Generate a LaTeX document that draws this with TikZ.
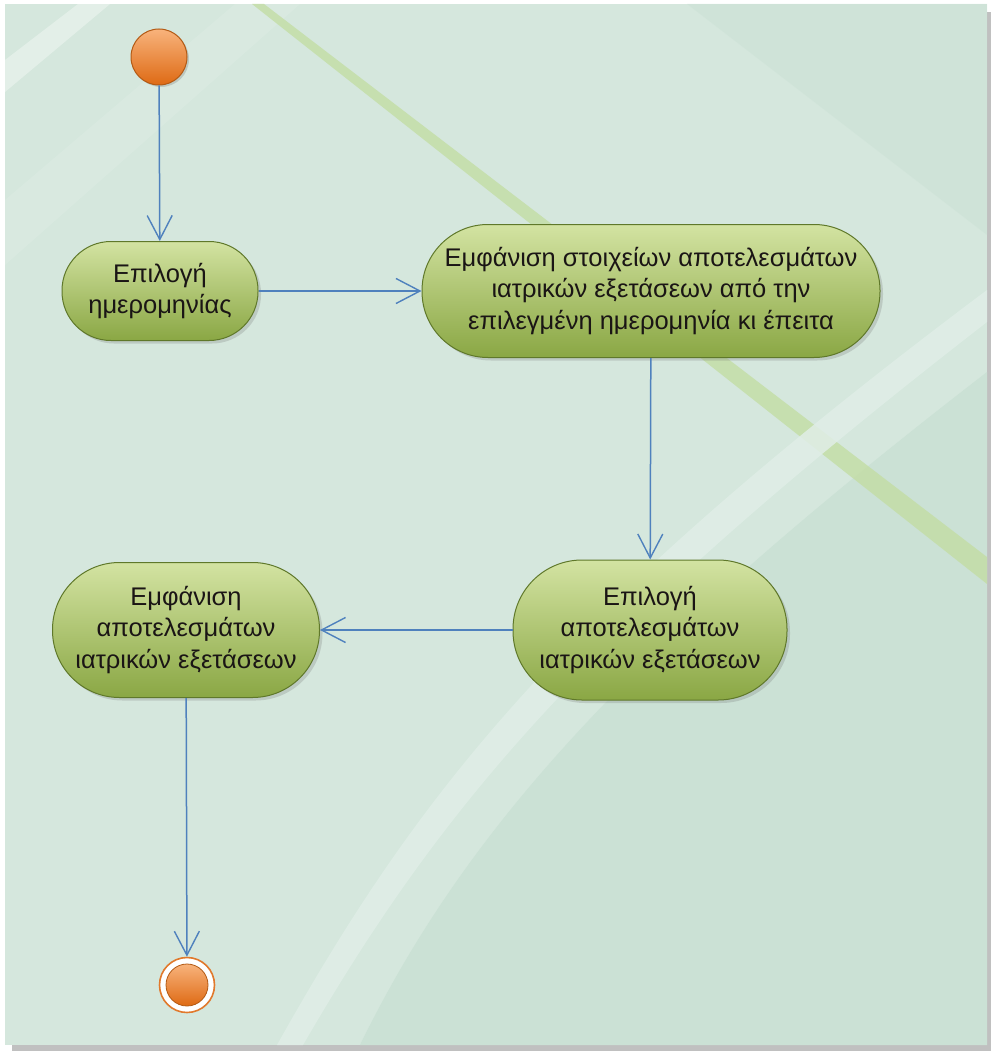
\documentclass[tikz,border=0pt]{standalone}
\usepackage{fontspec}
\setmainfont{Liberation Sans}
\usetikzlibrary{arrows.meta,shadows}
\definecolor{bglight}{HTML}{D5E7DD}
\definecolor{bgdark}{HTML}{CBE1D5}
\definecolor{bgband}{HTML}{E0EEE7}
\definecolor{stripe}{HTML}{C3DDA4}
\definecolor{framegray}{HTML}{C0C0C0}
\definecolor{acttop}{HTML}{D3E3A2}
\definecolor{actbot}{HTML}{8AA744}
\definecolor{actline}{HTML}{5F782A}
\definecolor{orgtop}{HTML}{F8B37C}
\definecolor{orgbot}{HTML}{DE6A14}
\definecolor{orgline}{HTML}{B35A14}
\definecolor{conncol}{HTML}{4F81BD}
\definecolor{txt}{HTML}{1A1515}
\tikzset{
  actnode/.style={rectangle, rounded corners=#1, draw=actline, line width=1pt,
    top color=acttop, bottom color=actbot, inner sep=2pt, align=center,
    text=txt, font=\fontsize{25.5}{31.5}\selectfont,
    drop shadow={shadow xshift=3pt, shadow yshift=-3pt, opacity=0.22, fill=black!60}},
  initnode/.style={circle, minimum size=56pt, inner sep=0pt, draw=orgline, line width=1pt,
    top color=orgtop, bottom color=orgbot,
    drop shadow={shadow xshift=2pt, shadow yshift=-2pt, opacity=0.25, fill=black!60}},
  finalnode/.style={circle, minimum size=55pt, inner sep=0pt, draw=orgbot!90, line width=1.6pt, fill=white},
  finalinner/.style={circle, minimum size=42pt, inner sep=0pt, draw=orgline, line width=0.8pt,
    top color=orgtop, bottom color=orgbot},
  conn/.style={draw=conncol, line width=1.5pt, -{Straight Barb[length=24pt,width=25pt,line width=1.4pt]}}
}
\begin{document}
\begin{tikzpicture}[x=1pt,y=-1pt]
\useasboundingbox (0,0) rectangle (991,1051);
\fill[white] (0,0) rectangle (991,1051);
\fill[framegray] (12,12) rectangle (991,1051);
\fill[bglight] (5,4) rectangle (987,1045);
\begin{scope}
\clip (5,4) rectangle (987,1045);
% darker wedge top right
\fill[bgdark, opacity=0.5] (687,4) -- (987,4) -- (987,235) -- cycle;
% faint light band top left
\fill[white, opacity=0.10] (5,200) -- (5,265) -- (300,4) -- (235,4) -- cycle;
% white band top left
\fill[white, opacity=0.35] (5,60) -- (5,92) -- (110,4) -- (78,4) -- cycle;
% darker region bottom right
\fill[bgdark] (360,1045) .. controls (470,820) and (640,640) .. (987,372) -- (987,1045) -- cycle;
% green stripe
\fill[stripe, opacity=0.8] (252,4) -- (264,4) -- (987,557) -- (987,584) -- cycle;
% white diagonal band
\fill[bgband, opacity=0.85] (277,1045) .. controls (420,790) and (560,610) .. (987,290)
  -- (987,322) .. controls (590,630) and (445,800) .. (303,1045) -- cycle;
\end{scope}

\node[initnode] (s) at (159,57) {};
\node[actnode=49pt, minimum width=196pt, minimum height=99pt] (a1) at (160,291) {Επιλογή\\ημερομηνίας};
\node[actnode=66pt, minimum width=458pt, minimum height=133pt] (a2) at (651,291)
  {Εμφάνιση στοιχείων αποτελεσμάτων\\ιατρικών εξετάσεων από την\\επιλεγμένη ημερομηνία κι έπειτα};
\node[actnode=69pt, minimum width=274pt, minimum height=140pt] (a3) at (650,630)
  {Επιλογή\\αποτελεσμάτων\\ιατρικών εξετάσεων};
\node[actnode=67pt, minimum width=267pt, minimum height=135pt] (a4) at (186,630)
  {Εμφάνιση\\αποτελεσμάτων\\ιατρικών εξετάσεων};
\node[finalnode] (e) at (187,985) {};
\node[finalinner] (ei) at (e.center) {};

\draw[conn] (s) -- (a1);
\draw[conn] (a1) -- (a2);
\draw[conn] (a2) -- (a3);
\draw[conn] (a3) -- (a4);
\draw[conn] (a4) -- (e);
\end{tikzpicture}
\end{document}
